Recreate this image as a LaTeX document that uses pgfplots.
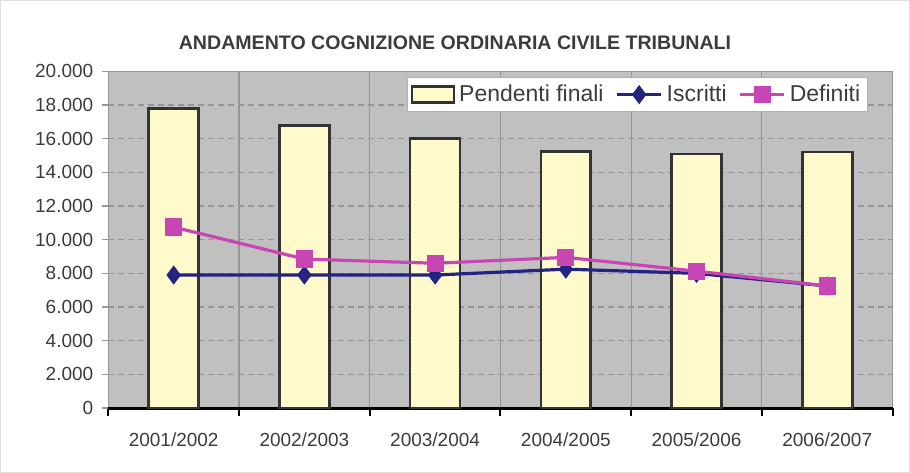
\documentclass[border=0pt]{standalone}
\usepackage{pgfplots}
\pgfplotsset{compat=1.18}
\usepackage{fontspec}
\setmainfont{Liberation Sans}
\definecolor{plotbg}{RGB}{192,192,192}
\definecolor{baryellow}{RGB}{255,250,204}
\definecolor{iscr}{RGB}{35,35,130}
\definecolor{defi}{RGB}{200,70,180}
\definecolor{txt}{RGB}{60,60,60}
\definecolor{gridc}{RGB}{150,150,150}
\pgfplotsset{
  mylinelegend/.style={legend image code/.code={\draw[mark repeat=2, mark phase=2, ##1] plot coordinates {(0pt,0pt) (11pt,0pt) (22pt,0pt)};}},
  mybarlegend/.style={legend image code/.code={\draw[fill=baryellow, draw=black!80, line width=1.3pt] (0pt,-4pt) rectangle (21pt,4pt);}},
}
\begin{document}
\begin{tikzpicture}
\path[use as bounding box, draw=gray!25, fill=white] (0,0) rectangle (455pt,236pt);
\node[font=\bfseries\fontsize{9.8}{11}\selectfont, text=txt] at (227.5pt,215pt) {ANDAMENTO COGNIZIONE ORDINARIA CIVILE TRIBUNALI};
\begin{axis}[
  at={(54pt,32pt)}, anchor=south west,
  scale only axis, width=392.5pt, height=168.5pt,
  xmin=-0.5, xmax=5.5, ymin=0, ymax=20000,
  axis background/.style={fill=plotbg},
  axis x line*=bottom, axis y line*=left,
  x axis line style={line width=1.5pt, black, -},
  y axis line style={draw=none},
  tick align=outside,
  xtick={0,...,5},
  xticklabels={2001/2002,2002/2003,2003/2004,2004/2005,2005/2006,2006/2007},
  major x tick style={draw=none},
  minor xtick={-0.5,0.5,...,5.5},
  minor x tick style={black, line width=1pt},
  minor tick length=4pt,
  major tick length=3pt,
  xminorgrids, minor x grid style={gridc, line width=0.6pt},
  ytick={0,2000,...,20000},
  scaled y ticks=false,
  yticklabel style={/pgf/number format/fixed, /pgf/number format/precision=0, /pgf/number format/1000 sep={.}, xshift=-1pt},
  ymajorgrids, major y grid style={gridc, line width=0.6pt, dash pattern=on 3pt off 2pt},
  y tick style={gridc, line width=0.6pt},
  /pgf/number format/assume math mode=true,
  tick label style={font=\fontsize{9.5}{11}\selectfont, text=txt},
  xticklabel style={yshift=-6pt},
  legend style={at={(0.968,0.982)}, anchor=north east, draw=gray!60, fill=white,
    font=\fontsize{11.5}{13}\selectfont, text=txt, inner sep=1.5pt,
    /tikz/every even column/.append style={column sep=4pt}},
  legend columns=3,
  legend cell align=left,
]
\addplot[ybar, bar width=25pt, fill=baryellow, draw=black!80, line width=1.3pt, mybarlegend]
  coordinates {(0,17800) (1,16800) (2,16000) (3,15250) (4,15100) (5,15200)};
\addlegendentry{Pendenti finali}
\addplot[iscr, line width=1.6pt, mark=diamond*, mark size=3.5pt, mark options={solid, fill=iscr}, mylinelegend]
  coordinates {(0,7900) (1,7900) (2,7900) (3,8250) (4,8000) (5,7250)};
\addlegendentry{Iscritti}
\addplot[defi, line width=1.6pt, mark=square*, mark size=3.5pt, mark options={solid, fill=defi}, mylinelegend]
  coordinates {(0,10750) (1,8850) (2,8600) (3,8950) (4,8130) (5,7250)};
\addlegendentry{Definiti}
\draw[gridc, line width=0.8pt] (rel axis cs:0,1) -- (rel axis cs:1,1);
\end{axis}
\end{tikzpicture}
\end{document}
